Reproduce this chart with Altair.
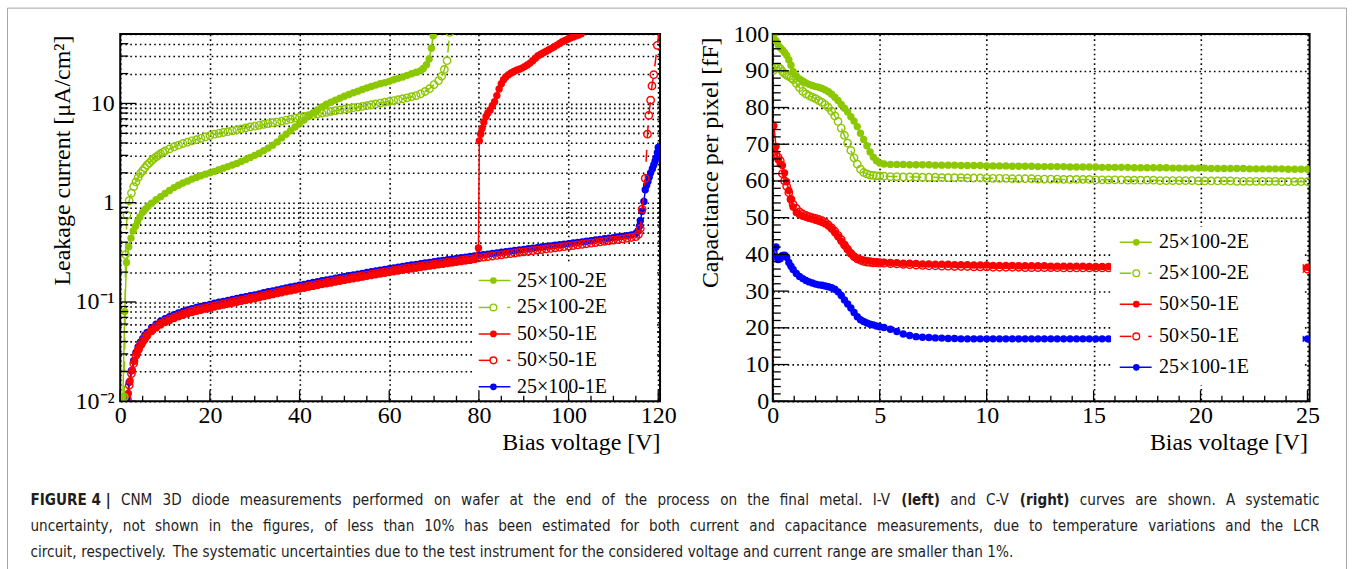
import altair as alt
import pandas as pd

SERIF = "Liberation Serif"
SANS = "DejaVu Sans Condensed, Liberation Sans, sans-serif"
GREEN = "#8cc800"
RED = "#ff0000"
BLUE = "#0000ff"
INK = "black"

W_IV, W_CV, H = 541, 538, 368   # plot areas of the two panels
GAP = 113                        # space between the two plot areas
MARK = 55                        # marker area

# ---------------- I-V: bias [V] vs leakage current [uA/cm^2] ----------------
iv_g2e_v = [0.6, 1.0, 1.4, 1.9, 2.4, 2.9, 3.4, 3.9, 4.4, 5.0, 5.6, 6.2, 7.0,
            8, 9, 10, 11, 12, 13, 14, 15, 16, 17, 18, 19, 20, 21, 22, 23, 24, 25, 26, 27,
            28, 29, 30, 31, 32, 33, 34, 35, 36, 37, 38, 39, 40, 41, 42, 43, 44, 45, 46, 47,
            48, 49, 50, 51, 52, 53, 54, 55, 56, 57, 58, 59, 60, 61, 62, 63, 64, 65, 66, 67,
            67.6, 68.3, 68.9, 69.4, 69.8]
iv_g2e_i = [0.011, 0.08, 0.25, 0.36, 0.44, 0.52, 0.58, 0.65, 0.72, 0.80, 0.86, 0.92, 0.99,
            1.07, 1.15, 1.24, 1.33, 1.42, 1.50, 1.58, 1.65, 1.73, 1.80, 1.87, 1.94, 2.00, 2.07, 2.15, 2.23, 2.31, 2.40, 2.49, 2.60,
            2.72, 2.86, 3.00, 3.15, 3.35, 3.55, 3.80, 4.10, 4.50, 4.90, 5.30, 5.80, 6.30, 6.80, 7.40, 8.00, 8.60, 9.20, 9.80, 10.3,
            10.8, 11.3, 11.8, 12.3, 12.8, 13.3, 13.8, 14.3, 14.8, 15.3, 15.8, 16.2, 16.7, 17.3, 17.9, 18.5, 19.2, 19.9, 20.6, 21.4,
            22.5, 24.5, 28.0, 36.0, 48.0]

iv_g2eo_v = [0.9, 1.2, 1.5, 2.0, 2.5, 3.0, 3.5, 4.0, 4.5, 5.0, 5.5, 6.0, 6.5, 7.0, 7.5, 8.0, 8.5, 9.0, 9.5,
             10, 11, 12, 13, 14, 15, 16, 17, 18, 19, 20, 21, 22, 23, 24, 25, 26, 27, 28, 29,
             30, 31, 32, 33, 34, 35, 36, 37, 38, 39, 40, 41, 42, 43, 44, 45, 46, 47, 48, 49,
             50, 51, 52, 53, 54, 55, 56, 57, 58, 59, 60, 61, 62, 63, 64, 65, 66, 67, 68, 69,
             70, 71, 71.7, 72.3, 72.9, 73.5]
iv_g2eo_i = [0.011, 0.30, 0.75, 1.05, 1.25, 1.45, 1.62, 1.80, 1.97, 2.10, 2.25, 2.40, 2.52, 2.65, 2.78, 2.90, 3.00, 3.12, 3.22,
             3.32, 3.48, 3.65, 3.80, 3.95, 4.07, 4.20, 4.32, 4.45, 4.60, 4.75, 4.90, 5.00, 5.10, 5.20, 5.30, 5.42, 5.55, 5.67, 5.80,
             5.90, 6.02, 6.15, 6.27, 6.40, 6.50, 6.65, 6.80, 6.95, 7.10, 7.25, 7.40, 7.55, 7.70, 7.85, 8.00, 8.15, 8.30, 8.45, 8.60,
             8.75, 8.90, 9.05, 9.20, 9.35, 9.50, 9.70, 9.90, 10.1, 10.3, 10.5, 10.7, 10.9, 11.15, 11.4, 11.7, 12.0, 12.5, 13.2, 14.1,
             15.5, 17.0, 18.8, 22.0, 27.0, 52.0]

iv_r1e_v = [1.8, 2.2, 2.7, 3.2, 3.7, 4.2, 4.8, 5.5,
            6, 7, 8, 9, 10, 11, 12, 13, 14, 15,
            16, 17, 18, 19, 20, 21, 22, 23, 24, 25,
            26, 27, 28, 29, 30, 31, 32, 33, 34, 35,
            36, 37, 38, 39, 40, 41, 42, 43, 44, 45,
            46, 47, 48, 49, 50, 51, 52, 53, 54, 55,
            56, 57, 58, 59, 60, 61, 62, 63, 64, 65,
            66, 67, 68, 69, 70, 71, 72, 73, 74, 75,
            76, 77, 78, 79, 79.9,
            80.1, 80.4, 80.7, 81.1, 81.6, 82.0, 82.5, 83.0, 83.5, 84.0, 84.5, 85.0, 85.5, 86.0,
            86.6, 87.2, 87.8, 88.4, 89.0, 89.6, 90.2, 90.8, 91.4, 92.0, 92.6, 93.2, 93.8, 94.4,
            95.0, 95.6, 96.2, 96.8, 97.4, 98.0, 98.6, 99.2, 99.8, 100.4, 101.0, 101.6, 102.2, 102.8]
iv_r1e_i = [0.012, 0.016, 0.0205, 0.0253, 0.0298, 0.0335, 0.0372, 0.0418,
            0.0451, 0.0504, 0.0548, 0.0587, 0.0621, 0.0652, 0.0681, 0.0708, 0.0734, 0.076,
            0.0783, 0.0805, 0.0826, 0.0847, 0.0866, 0.0888, 0.0909, 0.0929, 0.0951, 0.0972,
            0.0993, 0.1015, 0.1036, 0.1057, 0.1079, 0.1106, 0.1132, 0.1159, 0.1185, 0.1213,
            0.124, 0.1267, 0.1294, 0.1321, 0.1348, 0.1377, 0.1407, 0.1436, 0.1466, 0.1496,
            0.1526, 0.1556, 0.1587, 0.1618, 0.1649, 0.1681, 0.1713, 0.1746, 0.1779, 0.1812,
            0.1846, 0.188, 0.1915, 0.195, 0.1985, 0.2019, 0.2053, 0.2086, 0.212, 0.2155,
            0.219, 0.2225, 0.226, 0.2295, 0.233, 0.2367, 0.2403, 0.2439, 0.2475, 0.2512,
            0.2549, 0.2587, 0.2625, 0.2663, 0.35,
            4.2, 4.9, 5.6, 6.5, 7.4, 8.0, 8.6, 9.5, 10.4, 12.0, 14.0, 15.8, 17.3, 18.5,
            19.5, 20.3, 21.0, 21.6, 22.1, 22.7, 23.5, 24.4, 25.5, 27.0, 28.6, 30.2, 31.3, 32.4,
            33.6, 34.7, 35.9, 37.3, 38.7, 40.2, 41.8, 43.1, 44.4, 45.6, 46.8, 47.9, 49.0, 50.2]

iv_r1eo_v = [1.6, 2.0, 2.5, 3.0, 3.5, 4.0, 4.5, 5.0, 5.5,
             6, 7, 8, 9, 10, 11, 12, 13, 14, 15,
             16, 17, 18, 19, 20, 21, 22, 23, 24, 25,
             26, 27, 28, 29, 30, 31, 32, 33, 34, 35,
             36, 37, 38, 39, 40, 41, 42, 43, 44, 45,
             46, 47, 48, 49, 50, 51, 52, 53, 54, 55,
             56, 57, 58, 59, 60, 61, 62, 63, 64, 65,
             66, 67, 68, 69, 70, 71, 72, 73, 74, 75,
             76, 77, 78, 79, 80, 81, 82, 83, 84, 85,
             86, 87, 88, 89, 90, 91, 92, 93, 94, 95,
             96, 97, 98, 99, 100, 101, 102, 103, 104, 105,
             106, 107, 108, 109, 110, 111, 112, 113, 114, 115,
             115.6, 116.0, 116.4, 117.1, 117.6, 117.9, 118.3, 118.6, 119.0, 119.8, 120.3]
iv_r1eo_i = [0.0105, 0.0145, 0.019, 0.024, 0.029, 0.033, 0.037, 0.040, 0.0435,
             0.0465, 0.052, 0.0565, 0.0605, 0.064, 0.0672, 0.0702, 0.073, 0.0757, 0.0783,
             0.0807, 0.083, 0.0852, 0.0873, 0.0893, 0.0915, 0.0937, 0.0958, 0.098, 0.1002,
             0.1024, 0.1046, 0.1068, 0.109, 0.1112, 0.114, 0.1167, 0.1195, 0.1222, 0.125,
             0.1278, 0.1306, 0.1334, 0.1362, 0.139, 0.142, 0.145, 0.148, 0.1511, 0.1542,
             0.1573, 0.1604, 0.1636, 0.1668, 0.170, 0.1733, 0.1766, 0.18, 0.1834, 0.1868,
             0.1903, 0.1938, 0.1974, 0.201, 0.2046, 0.2081, 0.2116, 0.2151, 0.2186, 0.2222,
             0.2258, 0.2294, 0.233, 0.2366, 0.2402, 0.244, 0.2477, 0.2514, 0.2552, 0.259,
             0.2628, 0.2667, 0.2706, 0.2745, 0.2785, 0.2825, 0.2865, 0.2906, 0.2947, 0.2988,
             0.303, 0.3072, 0.3114, 0.3157, 0.32, 0.3243, 0.3287, 0.3331, 0.3376, 0.3421,
             0.3467, 0.3513, 0.356, 0.3607, 0.3655, 0.3705, 0.3756, 0.3808, 0.3861, 0.3915,
             0.397, 0.4026, 0.4083, 0.4141, 0.42, 0.4262, 0.4326, 0.4393, 0.4465, 0.455,
             0.48, 0.55, 0.86, 1.76, 4.9, 7.6, 10.8, 15.0, 19.5, 38.5, 60.0]

iv_b1e_v = [1.5, 2.0, 2.5, 3.0, 3.5, 4.0, 4.5, 5.0, 5.5,
            6, 7, 8, 9, 10, 11, 12, 13, 14, 15,
            16, 17, 18, 19, 20, 21, 22, 23, 24, 25,
            26, 27, 28, 29, 30, 31, 32, 33, 34, 35,
            36, 37, 38, 39, 40, 41, 42, 43, 44, 45,
            46, 47, 48, 49, 50, 51, 52, 53, 54, 55,
            56, 57, 58, 59, 60, 61, 62, 63, 64, 65,
            66, 67, 68, 69, 70, 71, 72, 73, 74, 75,
            76, 77, 78, 79, 80, 81, 82, 83, 84, 85,
            86, 87, 88, 89, 90, 91, 92, 93, 94, 95,
            96, 97, 98, 99, 100, 101, 102, 103, 104, 105,
            106, 107, 108, 109, 110, 111, 112, 113, 114, 115,
            115.5, 115.8, 116.0, 116.4, 116.8, 117.1, 117.4, 117.7, 118.0, 118.3,
            118.7, 119.0, 119.3, 119.5, 119.8, 120.0]
iv_b1e_i = [0.0105, 0.0155, 0.0203, 0.0256, 0.0308, 0.0352, 0.0394, 0.0426, 0.0463,
            0.0493, 0.0551, 0.0599, 0.0641, 0.0678, 0.0712, 0.0744, 0.0774, 0.0802, 0.083,
            0.0855, 0.088, 0.0903, 0.0925, 0.0947, 0.097, 0.0993, 0.1015, 0.1039, 0.1062,
            0.1085, 0.1109, 0.1132, 0.1155, 0.1179, 0.1208, 0.1237, 0.1267, 0.1295, 0.1325,
            0.1355, 0.1384, 0.1414, 0.1444, 0.1473, 0.1505, 0.1537, 0.1569, 0.1602, 0.1635,
            0.1667, 0.17, 0.1734, 0.1768, 0.1802, 0.1837, 0.1872, 0.1908, 0.1944, 0.198,
            0.2017, 0.2054, 0.2092, 0.2131, 0.2169, 0.2206, 0.2243, 0.228, 0.2317, 0.2355,
            0.2393, 0.2432, 0.247, 0.2508, 0.2546, 0.2586, 0.2626, 0.2665, 0.2705, 0.2745,
            0.2786, 0.2827, 0.2868, 0.291, 0.2952, 0.2995, 0.3037, 0.308, 0.3124, 0.3167,
            0.3212, 0.3256, 0.3301, 0.3346, 0.3392, 0.3438, 0.3484, 0.3531, 0.3579, 0.3626,
            0.3675, 0.3724, 0.3774, 0.3823, 0.3874, 0.3927, 0.3981, 0.4036, 0.4093, 0.415,
            0.4208, 0.4268, 0.4328, 0.439, 0.4452, 0.4518, 0.4586, 0.4657, 0.4745, 0.49,
            0.52, 0.58, 0.66, 0.82, 1.03, 1.35, 1.5, 1.64, 1.82, 2.0,
            2.2, 2.4, 2.62, 2.82, 3.2, 3.6]

# ---------------- C-V: bias [V] vs capacitance per pixel [fF] ----------------
cv_bias = [0.05, 0.15, 0.25, 0.35, 0.45, 0.55, 0.65, 0.75, 0.85, 0.95,
           1.1, 1.25, 1.4, 1.55, 1.7, 1.85, 2.0, 2.15, 2.3, 2.45,
           2.6, 2.75, 2.9, 3.05, 3.2, 3.35, 3.5, 3.65, 3.8, 3.95,
           4.1, 4.25, 4.4, 4.55, 4.7, 4.85, 5.0,
           5.2, 5.5, 5.8, 6.1, 6.4, 6.7, 7.0, 7.3, 7.6, 7.9,
           8.2, 8.5, 8.8, 9.1, 9.4, 9.7, 10.0, 10.3, 10.6, 10.9,
           11.2, 11.5, 11.8, 12.1, 12.4, 12.7, 13.0, 13.3, 13.6, 13.9,
           14.2, 14.5, 14.8, 15.1, 15.4, 15.7, 16.0, 16.3, 16.6, 16.9,
           17.2, 17.5, 17.8, 18.1, 18.4, 18.7, 19.0, 19.3, 19.6, 19.9,
           20.2, 20.5, 20.8, 21.1, 21.4, 21.7, 22.0, 22.3, 22.6, 22.9,
           23.2, 23.5, 23.8, 24.1, 24.4, 24.7, 25.0]
cv_g2e = [99.6, 98.2, 97.0, 96.3, 95.7, 95.0, 94.2, 93.0, 91.5, 89.8,
          88.6, 87.8, 87.2, 86.7, 86.3, 86.0, 85.7, 85.5, 85.2, 84.8,
          84.3, 83.6, 82.8, 81.9, 80.8, 79.8, 78.8, 77.5, 76.3, 74.8,
          73.0, 71.3, 69.6, 67.9, 66.5, 65.5, 64.9,
          64.6, 64.5, 64.5, 64.5, 64.4, 64.4, 64.4, 64.4, 64.3, 64.3,
          64.3, 64.3, 64.2, 64.2, 64.2, 64.2, 64.1, 64.1, 64.1, 64.1,
          64.0, 64.0, 64.0, 64.0, 63.9, 63.9, 63.9, 63.9, 63.9, 63.8,
          63.8, 63.8, 63.8, 63.8, 63.7, 63.7, 63.7, 63.7, 63.7, 63.6,
          63.6, 63.6, 63.6, 63.6, 63.6, 63.5, 63.5, 63.5, 63.5, 63.5,
          63.5, 63.4, 63.4, 63.4, 63.4, 63.4, 63.4, 63.3, 63.3, 63.3,
          63.3, 63.3, 63.3, 63.2, 63.2, 63.2, 63.2]
cv_g2eo = [90.2, 90.8, 91.0, 90.6, 89.8, 89.2, 88.8, 88.5, 88.1, 87.6,
           86.6, 85.4, 84.4, 83.7, 83.2, 82.8, 82.4, 81.9, 81.4, 80.8,
           80.0, 79.0, 77.7, 76.2, 74.4, 72.4, 70.3, 68.3, 66.3, 64.6,
           63.2, 62.3, 61.9, 61.6, 61.5, 61.4, 61.35,
           61.3, 61.2, 61.2, 61.1, 61.1, 61.1, 61.0, 61.0, 61.0, 60.9,
           60.9, 60.9, 60.9, 60.8, 60.8, 60.8, 60.7, 60.7, 60.7, 60.7,
           60.6, 60.6, 60.6, 60.6, 60.5, 60.5, 60.5, 60.5, 60.4, 60.4,
           60.4, 60.4, 60.4, 60.3, 60.3, 60.3, 60.3, 60.3, 60.2, 60.2,
           60.2, 60.2, 60.2, 60.1, 60.1, 60.1, 60.1, 60.1, 60.1, 60.0,
           60.0, 60.0, 60.0, 60.0, 60.0, 59.9, 59.9, 59.9, 59.9, 59.9,
           59.9, 59.9, 59.8, 59.8, 59.8, 59.8, 59.8]
cv_r1e = [75.0, 69.4, 65.8, 64.6, 64.2, 62.2, 59.8, 57.4, 55.0, 52.9,
          51.4, 50.8, 50.4, 50.1, 49.8, 49.6, 49.3, 49.0, 48.7, 48.3,
          47.7, 46.9, 45.9, 44.8, 43.6, 42.4, 41.3, 40.3, 39.5, 39.0,
          38.7, 38.5, 38.3, 38.2, 38.1, 38.0, 37.95,
          37.9, 37.8, 37.7, 37.6, 37.6, 37.5, 37.4, 37.4, 37.3, 37.3,
          37.3, 37.2, 37.2, 37.2, 37.1, 37.1, 37.1, 37.0, 37.0, 37.0,
          37.0, 36.9, 36.9, 36.9, 36.9, 36.9, 36.8, 36.8, 36.8, 36.8,
          36.8, 36.8, 36.7, 36.7, 36.7, 36.7, 36.7, 36.7, 36.7, 36.7,
          36.7, 36.6, 36.6, 36.6, 36.6, 36.6, 36.6, 36.6, 36.6, 36.6,
          36.6, 36.6, 36.6, 36.6, 36.6, 36.5, 36.5, 36.5, 36.5, 36.5,
          36.5, 36.5, 36.5, 36.5, 36.5, 36.5, 36.5]
cv_r1eo = [68.3, 67.2, 66.4, 65.5, 62.0, 60.0, 58.5, 56.8, 55.0, 53.6,
           52.5, 51.6, 51.0, 50.6, 50.3, 50.0, 49.8, 49.5, 49.2, 48.7,
           48.0, 47.2, 46.3, 45.2, 44.0, 42.6, 41.4, 40.3, 39.4, 38.8,
           38.4, 38.1, 37.9, 37.8, 37.7, 37.7, 37.6,
           37.6, 37.5, 37.4, 37.3, 37.2, 37.1, 37.0, 36.9, 36.9, 36.8,
           36.8, 36.7, 36.7, 36.7, 36.6, 36.6, 36.6, 36.5, 36.5, 36.5,
           36.5, 36.5, 36.4, 36.4, 36.4, 36.4, 36.4, 36.4, 36.3, 36.3,
           36.3, 36.3, 36.3, 36.3, 36.3, 36.3, 36.2, 36.2, 36.2, 36.2,
           36.2, 36.2, 36.2, 36.2, 36.2, 36.2, 36.2, 36.1, 36.1, 36.1,
           36.1, 36.1, 36.1, 36.1, 36.1, 36.1, 36.1, 36.1, 36.1, 36.0,
           36.0, 36.0, 36.0, 36.0, 36.0, 36.0, 36.0]
cv_b1e = [39.5, 42.0, 38.6, 38.8, 39.7, 39.8, 39.2, 37.8, 36.8, 35.9,
          34.8, 34.0, 33.4, 32.9, 32.5, 32.2, 31.9, 31.7, 31.6, 31.4,
          31.2, 30.9, 30.5, 29.8, 28.8, 27.6, 26.5, 25.4, 24.2, 23.0,
          22.2, 21.7, 21.3, 21.0, 20.8, 20.5, 20.3,
          20.1, 19.6, 19.0, 18.3, 17.9, 17.6, 17.45, 17.35, 17.25, 17.2,
          17.1, 17.1, 17.0, 17.0, 17.0, 17.0, 17.0, 17.0, 17.0, 17.0,
          17.0, 17.0, 17.0, 17.0, 17.0, 17.0, 17.0, 17.0, 17.0, 17.0,
          17.0, 17.0, 17.0, 17.0, 17.0, 17.0, 17.0, 17.0, 17.0, 17.0,
          17.0, 17.0, 17.0, 17.0, 17.0, 17.0, 17.0, 17.0, 17.0, 17.0,
          17.0, 17.0, 17.0, 17.0, 17.0, 17.0, 17.0, 17.0, 17.0, 17.0,
          17.0, 17.0, 17.0, 17.0, 17.0, 17.0, 17.0]

LEGEND = [("25×100-2E", GREEN, True), ("25×100-2E", GREEN, False),
          ("50×50-1E", RED, True), ("50×50-1E", RED, False),
          ("25×100-1E", BLUE, True)]

# axis ticks and grid positions
IV_X_MAJOR = [0, 20, 40, 60, 80, 100, 120]
IV_X_MINOR = [5, 10, 15, 25, 30, 35, 45, 50, 55, 65, 70, 75, 85, 90, 95, 105, 110, 115]
IV_Y_MAJOR = [0.01, 0.1, 1, 10]
IV_Y_MINOR = [0.02, 0.03, 0.04, 0.05, 0.06, 0.07, 0.08, 0.09,
              0.2, 0.3, 0.4, 0.5, 0.6, 0.7, 0.8, 0.9,
              2, 3, 4, 5, 6, 7, 8, 9, 20, 30, 40, 50]
CV_X_MAJOR = [0, 5, 10, 15, 20, 25]
CV_X_MINOR = [1, 2, 3, 4, 6, 7, 8, 9, 11, 12, 13, 14, 16, 17, 18, 19, 21, 22, 23, 24]
CV_Y_MAJOR = [0, 10, 20, 30, 40, 50, 60, 70, 80, 90, 100]
CV_Y_MINOR = [2, 4, 6, 8, 12, 14, 16, 18, 22, 24, 26, 28, 32, 34, 36, 38, 42, 44, 46, 48,
              52, 54, 56, 58, 62, 64, 66, 68, 72, 74, 76, 78, 82, 84, 86, 88, 92, 94, 96, 98]

CAPTION = [
    [("FIGURE 4 |", True),
     (" CNM 3D diode measurements performed on wafer at the end of the process on the final metal. I-V ", False),
     ("(left)", True), (" and C-V ", False), ("(right)", True),
     (" curves are shown. A systematic", False)],
    [("uncertainty, not shown in the figures, of less than 10% has been estimated for both current and "
      "capacitance measurements, due to temperature variations and the LCR", False)],
    [("circuit, respectively. The systematic uncertainties due to the test instrument for the considered "
      "voltage and current range are smaller than 1%.", False)],
]

one = pd.DataFrame({"k": [0]})


def axis(**kw):
    base = dict(domain=False, ticks=False, tickSize=0, grid=True, gridColor=INK,
                gridDash=[1.6, 3.2], gridWidth=1.6, gridOpacity=1,
                labelFont=SERIF, labelFontSize=24, labelColor=INK, labelFlush=False,
                labelOverlap=False, labelBound=False,
                titleFont=SERIF, titleFontSize=24, titleFontWeight="normal", titleColor=INK)
    base.update(kw)
    return alt.Axis(**base)


X_IV = alt.X("V:Q", scale=alt.Scale(domain=[0, 120.4], nice=False, zero=False),
             axis=axis(values=IV_X_MAJOR, labelPadding=2, title="Bias voltage [V]",
                       titleX=W_IV, titleY=48, titleAlign="right", titleBaseline="alphabetic", titleAngle=0))
Y_IV = alt.Y("I:Q", scale=alt.Scale(type="log", domain=[0.01, 50], nice=False),
             axis=axis(values=IV_Y_MAJOR + IV_Y_MINOR, labelPadding=6,
                       labelExpr="datum.value == 10 ? '10' : datum.value == 1 ? '1' : "
                                 "datum.value == 0.1 ? '10⁻¹' : datum.value == 0.01 ? '10⁻²' : ''",
                       title="Leakage current [μA/cm²]", titleX=-51, titleY=1, titleAngle=270,
                       titleAlign="right", titleBaseline="alphabetic"))
X_CV = alt.X("V:Q", scale=alt.Scale(domain=[0, 25.1], nice=False, zero=False),
             axis=axis(values=CV_X_MAJOR, labelPadding=2, title="Bias voltage [V]",
                       titleX=W_CV - 2, titleY=48, titleAlign="right", titleBaseline="alphabetic", titleAngle=0))
Y_CV = alt.Y("C:Q", scale=alt.Scale(domain=[0, 100], nice=False, zero=False),
             axis=axis(values=CV_Y_MAJOR, labelPadding=4,
                       title="Capacitance per pixel [fF]", titleX=-55, titleY=3, titleAngle=270,
                       titleAlign="right", titleBaseline="alphabetic"))


def curve(df, xe, ye, color, filled, dashed):
    line_kw = dict(color=color, strokeWidth=1.5, clip=True)
    if dashed:
        line_kw["strokeDash"] = [12, 12]
    line = alt.Chart(df).mark_line(**line_kw).encode(x=xe, y=ye)
    pts = alt.Chart(df).mark_point(shape="circle", filled=filled, size=MARK, color=color,
                                   strokeWidth=1.4, opacity=1, clip=True).encode(x=xe, y=ye)
    return [line, pts]


def x_ticks(values, xe, length):
    return alt.Chart(pd.DataFrame({"V": values})).mark_rule(color=INK, strokeWidth=1.3).encode(
        x=xe, y=alt.value(H), y2=alt.value(H - length))


def y_ticks(values, field, ye, length):
    return alt.Chart(pd.DataFrame({field: values})).mark_rule(color=INK, strokeWidth=1.3).encode(
        y=ye, x=alt.value(0), x2=alt.value(length))


def legend(rows, x0, x1, solid_end, dash_start, xm, xt, box):
    out = [alt.Chart(one).mark_rect(color="white").encode(
        x=alt.value(box[0]), x2=alt.value(box[1]), y=alt.value(box[2]), y2=alt.value(box[3]))]
    for (label, color, filled), y in zip(LEGEND, rows):
        segs = [(x0, x1)] if filled else [(x0, solid_end), (dash_start, x1)]
        for a, b in segs:
            out.append(alt.Chart(one).mark_rule(color=color, strokeWidth=1.5).encode(
                x=alt.value(a), x2=alt.value(b), y=alt.value(y)))
        out.append(alt.Chart(one).mark_point(shape="circle", filled=filled, size=45, color=color,
                                             strokeWidth=1.4, opacity=1).encode(
            x=alt.value(xm), y=alt.value(y)))
        out.append(alt.Chart(one).mark_text(text=label, font=SERIF, fontSize=20, align="left",
                                            baseline="middle", color=INK).encode(
            x=alt.value(xt), y=alt.value(y)))
    return out


# caption typesetting: DejaVu Sans advance widths (1/1000 em), condensed cut is ~90 %
REG_W = dict(zip(
    "abcdefghijklmnopqrstuvwxyzABCDEFGHIJKLMNOPQRSTUVWXYZ0123456789 ,.-()%|",
    [613, 635, 550, 635, 615, 352, 635, 634, 278, 278, 579, 278, 974, 634, 612, 635, 635, 411, 521, 392,
     634, 592, 818, 592, 592, 525,
     684, 686, 698, 770, 632, 575, 775, 752, 295, 295, 656, 557, 863, 748, 787, 603, 787, 695, 635, 611,
     732, 684, 989, 685, 611, 685]
    + [636] * 10 + [318, 318, 318, 361, 390, 390, 950, 337], strict=True))
BOLD_W = {"F": 684, "I": 372, "G": 821, "U": 812, "R": 770, "E": 683, " ": 348, "4": 696, "|": 366,
          "(": 458, ")": 458, "l": 343, "e": 678, "f": 435, "t": 478, "r": 493, "i": 343, "g": 716, "h": 712}
COND = 0.9
SPACE = 318


def units(s, bold):
    table = BOLD_W if bold else REG_W
    return COND * sum(table.get(ch, 600) for ch in s)


def words_of(line):
    # bold runs stay whole; regular runs break at spaces
    out = []
    for s, bold in line:
        if bold:
            out.append((s.strip(" "), True))
        else:
            out += [(w, False) for w in s.split(" ") if w]
    return out


CAP_X0 = -90          # left edge of the caption block, relative to the left plot
CAP_BLOCK = 1292      # justified width of the caption block
CAP_LAST = 985        # natural width of the closing (unjustified) line
CAP_ROWS = [467, 493, 519]
_last = words_of(CAPTION[2])
CAP_SIZE = CAP_LAST * 1000 / (sum(units(w, b) for w, b in _last) + COND * SPACE * (len(_last) - 1))


def caption_layers():
    out = []
    for i, (line, y) in enumerate(zip(CAPTION, CAP_ROWS)):
        words = words_of(line)
        widths = [units(w, b) * CAP_SIZE / 1000 for w, b in words]
        if i < len(CAPTION) - 1:
            gap = (CAP_BLOCK - sum(widths)) / (len(words) - 1)
        else:
            gap = COND * SPACE * CAP_SIZE / 1000
        x = CAP_X0
        for (w, bold), wd in zip(words, widths):
            out.append(alt.Chart(one).mark_text(text=w, font=SANS, fontSize=CAP_SIZE,
                                                fontWeight="bold" if bold else "normal",
                                                align="left", baseline="middle", color="#1e1e1e").encode(
                x=alt.value(x), y=alt.value(y)))
            x += wd + gap
    return out


def df2(v, y, col):
    return pd.DataFrame({"V": v, col: y})


# ---------------- left panel: I-V ----------------
iv_layers = []
iv_layers += curve(df2(iv_b1e_v, iv_b1e_i, "I"), X_IV, Y_IV, BLUE, True, False)
iv_layers += curve(df2(iv_r1e_v, iv_r1e_i, "I"), X_IV, Y_IV, RED, True, False)
iv_layers += curve(df2(iv_r1eo_v, iv_r1eo_i, "I"), X_IV, Y_IV, RED, False, True)
iv_layers += curve(df2(iv_g2e_v, iv_g2e_i, "I"), X_IV, Y_IV, GREEN, True, False)
iv_layers += curve(df2(iv_g2eo_v, iv_g2eo_i, "I"), X_IV, Y_IV, GREEN, False, True)
iv_layers += legend([247, 274, 300.5, 327, 353.5], 359.3, 391, 371, 387.7, 374, 397.7, (354, 536, 230, 366))
iv_layers += [x_ticks(IV_X_MAJOR, X_IV, 11), x_ticks(IV_X_MINOR, X_IV, 5.5),
              y_ticks(IV_Y_MAJOR, "I", Y_IV, 16), y_ticks(IV_Y_MINOR, "I", Y_IV, 8)]
iv_layers += caption_layers()
# outer figure border
iv_layers.append(alt.Chart(one).mark_rect(fillOpacity=0, stroke="#a6a6a6", strokeWidth=1).encode(
    x=alt.value(-113), x2=alt.value(1229), y=alt.value(-26), y2=alt.value(545)))
iv_chart = alt.layer(*iv_layers).properties(width=W_IV, height=H)

# ---------------- right panel: C-V ----------------
cv_layers = []
cv_layers += curve(df2(cv_bias, cv_g2e, "C"), X_CV, Y_CV, GREEN, True, False)
cv_layers += curve(df2(cv_bias, cv_g2eo, "C"), X_CV, Y_CV, GREEN, False, True)
cv_layers += curve(df2(cv_bias, cv_r1e, "C"), X_CV, Y_CV, RED, True, False)
cv_layers += curve(df2(cv_bias, cv_r1eo, "C"), X_CV, Y_CV, RED, False, True)
cv_layers += curve(df2(cv_bias, cv_b1e, "C"), X_CV, Y_CV, BLUE, True, False)
cv_layers += legend([208.7, 239.7, 270.7, 303, 334], 347.7, 379.7, 359.3, 376.3, 364.3, 387, (339, 531, 193, 352))
cv_layers += [x_ticks(CV_X_MAJOR, X_CV, 11), x_ticks(CV_X_MINOR, X_CV, 5.5),
              y_ticks(CV_Y_MAJOR, "C", Y_CV, 16), y_ticks(CV_Y_MINOR, "C", Y_CV, 8)]
cv_chart = alt.layer(*cv_layers).properties(width=W_CV, height=H)

chart = alt.hconcat(iv_chart, cv_chart, spacing=GAP, bounds="flush").properties(
    padding={"left": 5.5, "top": 5.5, "right": 5.5, "bottom": 0},
    background="white",
).configure_view(stroke=INK, strokeWidth=2)

chart.save("out.html", embed_options={"renderer": "svg", "actions": False})
